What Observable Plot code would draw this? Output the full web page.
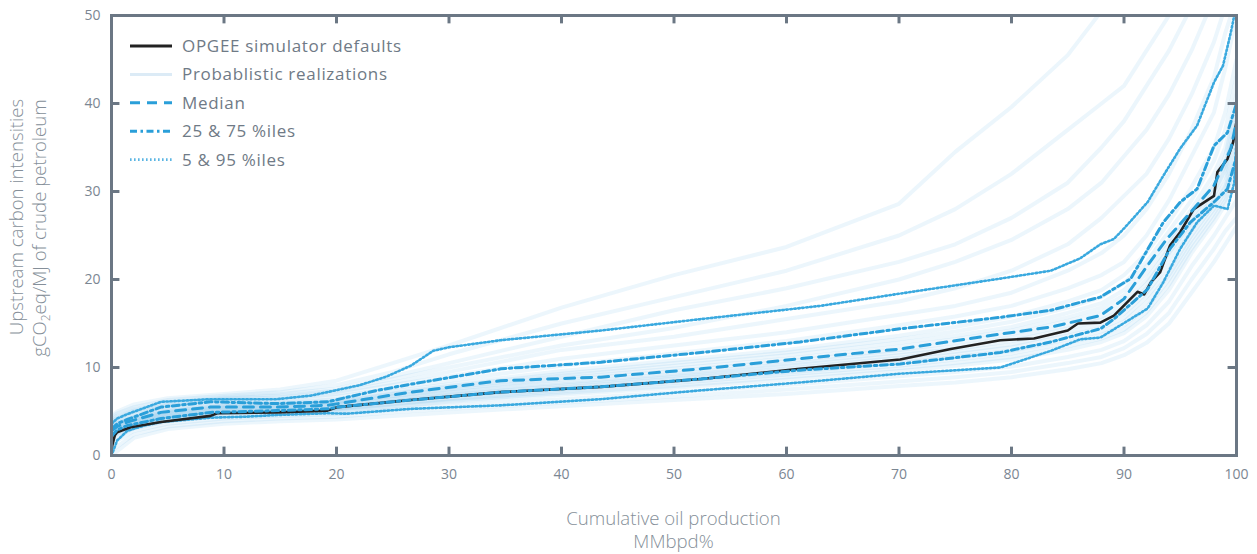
<!DOCTYPE html>
<html>
<head>
<meta charset="utf-8">
<script src="https://cdn.jsdelivr.net/npm/d3@7"></script>
<script src="https://cdn.jsdelivr.net/npm/@observablehq/plot@0.6"></script>
<style>
  html, body { margin: 0; padding: 0; background: #fff; }
  #chart svg { display: block; }
</style>
</head>
<body>
<div id="chart"></div>
<script>
// ---------- DATA ----------
const xTicks = [0, 10, 20, 30, 40, 50, 60, 70, 80, 90, 100];
const yTicks = [0, 10, 20, 30, 40, 50];

const legendLabels = ["OPGEE simulator defaults", "Probablistic realizations", "Median", "25 & 75 %iles", "5 & 95 %iles"];

// OPGEE defaults [x, y]
const opgee = [[0,0.8],[0.3,2.3],[0.5,2.65],[1.7,3.2],[4.4,3.8],[8.8,4.5],[9.4,4.8],[14.7,4.9],[19.2,5.1],[20.1,5.5],[26.6,6.3],[34.6,7.2],[43.5,7.8],[52.4,8.7],[61.2,9.85],[70.1,10.9],[74.6,12.1],[79,13.1],[82,13.3],[85,14.2],[85.9,15.0],[87.9,15.1],[89.1,15.9],[91.2,18.6],[91.8,18.3],[92.4,19.7],[93.2,20.8],[94.1,23.9],[95,25.4],[96.2,28],[98,29.5],[98.3,32.2],[99.2,33.7],[99.7,35.6],[100,38]];

const median = [[0,2.8],[0.5,3.3],[1.4,3.8],[4.4,4.9],[8.8,5.5],[14.7,5.5],[19.2,5.7],[23.6,6.6],[26.6,7.2],[34.6,8.5],[43.5,8.9],[52.4,9.85],[61.2,11.0],[70.1,12.1],[79,13.8],[83.5,14.6],[87.9,15.9],[90,17.8],[92.1,21.6],[93.8,24.6],[95.9,27.6],[98,30.7],[99.5,34.9],[100,38]];

const p75 = [[0,3.0],[0.5,3.6],[1.4,4.1],[4.4,5.5],[8.8,6.1],[14.7,5.9],[19.2,6.1],[23.6,7.4],[26.6,8.1],[34.6,9.85],[43.5,10.6],[52.4,11.7],[61.2,12.9],[70.1,14.4],[79,15.7],[83.5,16.5],[86.1,17.4],[87.9,18.0],[90.6,20.1],[93.5,26.5],[95,28.8],[96.5,30.3],[98,35.2],[99.2,36.7],[100,40]];

const p25 = [[0,2.2],[0.5,2.9],[1.4,3.4],[4.4,4.2],[8.8,4.9],[14.7,5.1],[19.2,5.3],[20.1,5.5],[26.6,6.3],[34.6,7.2],[43.5,7.8],[52.4,8.7],[61.2,9.7],[70.1,10.4],[79,11.7],[83.5,12.9],[87.9,14.4],[89.1,15.5],[92.1,18.9],[94.1,23.5],[95.9,26.5],[98,28.8],[99.2,30.3],[100,34]];

const p95 = [[0,3.6],[0.5,4.2],[1.4,4.7],[4.4,6.1],[8.8,6.4],[14.7,6.4],[17.7,6.8],[22.1,8.0],[24.5,9.0],[26.6,10.2],[28.6,11.9],[30,12.3],[34.6,13.1],[43.5,14.2],[52.4,15.5],[63,17.0],[70.1,18.4],[79,20.1],[83.5,21.0],[86.1,22.4],[87.9,24.0],[89.1,24.6],[90,25.8],[92.1,28.8],[93.5,31.8],[95,34.9],[96.5,37.5],[98,42.4],[98.8,44.3],[99.5,48.1],[99.8,50]];

const p5 = [[0,0],[0.5,1.7],[1.4,2.8],[2.9,3.4],[4.4,3.8],[8.8,4.3],[11.8,4.4],[14.7,4.6],[19.2,4.8],[20.9,4.75],[26.6,5.3],[34.6,5.7],[43.5,6.4],[52.4,7.4],[61.2,8.3],[70.1,9.3],[79,10.0],[83.5,11.9],[86.1,13.2],[87.9,13.4],[92.1,16.7],[93.5,19.7],[95,23.5],[96.5,26.5],[98,28.4],[99.2,28],[99.8,31],[100,36]];

// Probabilistic realizations, sampled at realizationX
const realizationX = [0, 0.5, 2, 5, 10, 15, 20, 25, 30, 40, 50, 60, 70, 75, 80, 85, 88, 90, 92, 94, 96, 98, 99, 100];
const realizations = [
  [4.5,5.0,5.8,6.5,7.0,7.5,8.5,10.5,12.5,16.8,20.5,23.7,28.6,34.5,39.6,45.5,50.5,52,53,54,55,56,57,58],
  [4.3,4.8,5.5,6.3,6.8,7.2,8.0,9.5,11.5,15,18,21,25,28,32,37,40,42,46,50,53,55,56,57],
  [4.0,4.5,5.3,6.0,6.6,7.0,7.6,9.0,10.5,13.5,16.5,19,22,24,27,31,35,38,42,46,51,54,55,56],
  [3.9,4.3,5.1,5.9,6.5,6.8,7.4,8.7,10,12.5,14.5,17,20,22,24.5,28,31,34,37,41,46,52,54,55],
  [3.8,4.2,5.0,5.8,6.4,6.6,7.2,8.3,9.5,12,13.5,15.5,17.5,19,21,24,27,29.5,32,36,41,47,51,54],
  [3.6,4.0,4.8,5.6,6.2,6.4,7.0,8.0,9.0,11,12.5,14,16,17,18.5,21,23,25,28,32,37,43,48,52],
  [3.5,3.9,4.6,5.4,6.0,6.2,6.7,7.6,8.5,10.2,11.6,13,14.8,15.8,17,19,20.5,22,25,29,34,39,44,50],
  [3.4,3.7,4.4,5.2,5.8,6.0,6.4,7.3,8.1,9.6,10.8,12.0,13.6,14.6,15.8,17.5,18.8,20.5,23,26.5,30.5,35,39,45],
  [3.3,3.6,4.3,5.1,5.7,5.9,6.2,7.1,7.9,9.3,10.5,11.7,13.2,14.1,15.2,16.8,18,19.6,22,25.5,29,33.5,37,43],
  [3.2,3.5,4.2,5.0,5.6,5.8,6.1,7.0,7.7,9.1,10.2,11.4,12.8,13.6,14.6,16.2,17.3,18.8,21.5,24.5,28,32,35,41],
  [3.1,3.4,4.1,4.9,5.5,5.7,6.0,6.8,7.5,8.8,9.9,11.0,12.4,13.2,14.2,15.7,16.8,18.2,20.7,24,27.5,31,34,40],
  [3.0,3.3,4.0,4.8,5.4,5.6,5.9,6.7,7.4,8.6,9.6,10.7,12.0,12.8,13.8,15.3,16.3,17.6,20,23.5,27,30.5,33,39],
  [2.9,3.2,3.9,4.7,5.3,5.5,5.8,6.5,7.2,8.3,9.3,10.4,11.7,12.4,13.4,14.8,15.8,17.1,19.5,23,26.5,30,32.5,38],
  [2.8,3.1,3.8,4.6,5.2,5.4,5.7,6.4,7.0,8.1,9.1,10.2,11.4,12.1,13.0,14.4,15.4,16.6,19,22.5,26,29.5,32,37],
  [2.6,3.0,3.7,4.5,5.1,5.3,5.5,6.2,6.9,7.9,8.9,9.9,11.1,11.8,12.6,14.0,14.9,16.1,18.5,21.7,25.5,29,31,36],
  [2.5,2.9,3.6,4.4,5.0,5.2,5.4,6.1,6.7,7.7,8.7,9.7,10.8,11.5,12.3,13.6,14.5,15.6,18,21,25,28.5,30.5,35],
  [2.3,2.7,3.5,4.3,4.9,5.1,5.3,5.9,6.5,7.5,8.4,9.4,10.5,11.2,11.9,13.2,14.1,15.2,17.4,20.5,24.5,28,30,34],
  [2.2,2.6,3.4,4.2,4.8,5.0,5.2,5.8,6.4,7.3,8.2,9.2,10.2,10.9,11.6,12.8,13.7,14.8,16.8,20,24,27.5,29.5,33],
  [2.0,2.4,3.2,4.0,4.6,4.9,5.1,5.6,6.2,7.1,7.9,8.9,9.9,10.5,11.2,12.4,13.3,14.3,16.3,19.4,23.5,27,29,32],
  [1.8,2.2,3.1,3.9,4.5,4.8,5.0,5.5,6.1,6.9,7.7,8.6,9.6,10.2,10.9,12.0,12.9,13.9,15.8,18.8,23,26.5,28.5,31],
  [1.2,1.7,2.8,3.6,4.2,4.5,4.7,5.2,5.7,6.4,7.2,8.0,9.0,9.5,10.1,11.2,12.0,13.0,14.8,17.5,21.5,25,27,29],
  [0.5,1.0,2.4,3.3,3.9,4.2,4.4,4.9,5.3,6.0,6.7,7.5,8.4,8.9,9.5,10.5,11.2,12.2,13.8,16.2,20,23.5,25.5,27],
  [0,0.5,2.0,3.0,3.6,3.9,4.1,4.5,4.9,5.6,6.3,7.0,7.9,8.3,8.9,9.8,10.5,11.4,12.8,15,18.5,22,24,26]
];

// ---------- STYLE ----------
const BLUE = "#2a9fd9";
const DOT_BLUE = "#3aa9df";
const FRAME = "#6b7784";
const TXT = "#7b8692";
const TITLE = "#858f99";
const FONT = "'Open Sans', Lato, sans-serif";

const realTable = realizations.flatMap((row, i) => row.map((y, j) => ({run: i, x: realizationX[j], y})));
const px = d => d[0], py = d => d[1];

const W = 1257, H = 554, mL = 111, mR = 21, mT = 15, mB = 99;

const DASH_MED = "10 7", DASH_Q = "7 3.5 2.5 3.5", DASH_TAIL = "1.6 2.4";

const chart = Plot.plot({
  width: W, height: H,
  marginLeft: mL, marginRight: mR, marginTop: mT, marginBottom: mB,
  style: {fontFamily: FONT, background: "#fff"},
  x: {domain: [0, 100], axis: null},
  y: {domain: [0, 50], axis: null},
  marks: [
    Plot.line(realTable, {x: "x", y: "y", z: "run", stroke: BLUE, strokeOpacity: 0.09, strokeWidth: 4, clip: true}),
    Plot.line(p5, {x: px, y: py, stroke: DOT_BLUE, strokeWidth: 2.6, strokeDasharray: DASH_TAIL, clip: true}),
    Plot.line(p95, {x: px, y: py, stroke: DOT_BLUE, strokeWidth: 2.6, strokeDasharray: DASH_TAIL, clip: true}),
    Plot.line(opgee, {x: px, y: py, stroke: "#222", strokeWidth: 2.6, clip: true}),
    Plot.line(p25, {x: px, y: py, stroke: BLUE, strokeWidth: 3, strokeDasharray: DASH_Q, clip: true}),
    Plot.line(p75, {x: px, y: py, stroke: BLUE, strokeWidth: 3, strokeDasharray: DASH_Q, clip: true}),
    Plot.line(median, {x: px, y: py, stroke: BLUE, strokeWidth: 3, strokeDasharray: DASH_MED, clip: true}),
    // inward ticks
    Plot.ruleX(xTicks.slice(1, -1), {y1: 0, y2: 0.95, stroke: FRAME, strokeWidth: 3}),
    Plot.ruleX(xTicks.slice(1, -1), {y1: 50, y2: 49.05, stroke: FRAME, strokeWidth: 3}),
    Plot.ruleY(yTicks.slice(1, -1), {x1: 0, x2: 0.75, stroke: FRAME, strokeWidth: 3}),
    Plot.ruleY(yTicks.slice(1, -1), {x1: 100, x2: 99.25, stroke: FRAME, strokeWidth: 3}),
    Plot.frame({stroke: FRAME, strokeWidth: 3}),
    // tick labels
    Plot.text(xTicks, {x: d => d, y: 0, dy: 19, text: d => String(d), fill: TXT, fontSize: 14, lineAnchor: "middle"}),
    Plot.text(yTicks, {x: 0, y: d => d, dx: -11, text: d => String(d), fill: TXT, fontSize: 14, textAnchor: "end", lineAnchor: "middle"})
  ]
});

document.getElementById("chart").appendChild(chart);

// ---------- axis titles & legend (annotations) ----------
const svg = d3.select(chart);
const cx = mL + (W - mL - mR) / 2;

const xt = svg.append("text").attr("text-anchor", "middle").attr("fill", TITLE)
  .attr("font-family", FONT).attr("font-size", 18.6).attr("font-weight", 300);
xt.append("tspan").attr("x", cx).attr("y", 525).text("Cumulative oil production");
xt.append("tspan").attr("x", cx).attr("y", 548).text("MMbpd%");

svg.append("text").attr("text-anchor", "middle").attr("fill", TITLE)
  .attr("font-family", FONT).attr("font-size", 18.6).attr("font-weight", 300)
  .attr("transform", "translate(23,217) rotate(-90)").text("Upstream carbon intensities");
const yt2 = svg.append("text").attr("text-anchor", "middle").attr("fill", TITLE)
  .attr("font-family", FONT).attr("font-size", 18.6).attr("font-weight", 300)
  .attr("transform", "translate(46,228) rotate(-90)");
yt2.append("tspan").text("gCO");
yt2.append("tspan").attr("font-size", 12).attr("dy", 4).text("2");
yt2.append("tspan").attr("dy", -4).text("eq/MJ of crude petroleum");

const legendStyles = [
  {stroke: "#222", width: 3, dash: null},
  {stroke: "#dcebf6", width: 3, dash: null},
  {stroke: BLUE, width: 3, dash: DASH_MED},
  {stroke: BLUE, width: 3, dash: DASH_Q},
  {stroke: "#5ab5e3", width: 2.6, dash: DASH_TAIL}
];
const lg = svg.append("g").attr("font-family", FONT).attr("font-size", 17).attr("fill", "#6f7a86")
  .attr("text-anchor", "start");
legendLabels.forEach((lab, i) => {
  const yy = 46 + i * 28.4;
  const s = legendStyles[i];
  const ln = lg.append("line").attr("x1", 130).attr("x2", 172).attr("y1", yy).attr("y2", yy)
    .attr("stroke", s.stroke).attr("stroke-width", s.width);
  if (s.dash) ln.attr("stroke-dasharray", s.dash);
  lg.append("text").attr("x", 182).attr("y", yy).attr("dy", "0.35em").attr("text-anchor", "start")
    .attr("letter-spacing", "0.7px").text(lab);
});
</script>
</body>
</html>
